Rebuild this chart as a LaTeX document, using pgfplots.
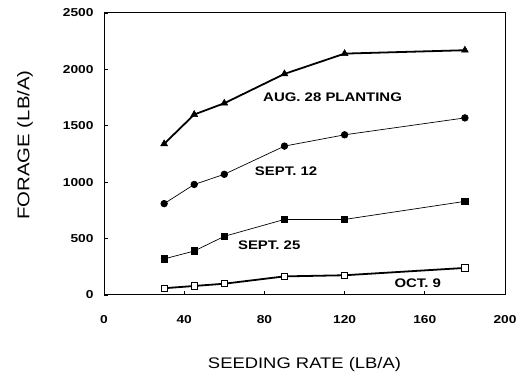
\documentclass[border=0pt]{standalone}
\usepackage{fontspec}
\setmainfont{Liberation Sans}
\newfontfamily\wide[FakeStretch=1.2]{Liberation Sans}
\usepackage{pgfplots}
\pgfplotsset{compat=1.18}
\begin{document}
\begin{tikzpicture}
\begin{axis}[
  at={(0,0)}, anchor=south west,
  scale only axis, width=401bp, height=282bp,
  xmin=0, xmax=200, ymin=0, ymax=2500,
  xtick={0,40,...,200}, ytick={0,500,...,2500},
  xtick pos=left, ytick pos=left,
  tick align=inside, major tick length=4bp,
  axis line style={line width=1pt},
  tick style={line width=0.8pt, black},
  /pgf/number format/assume math mode=true,
  /pgf/number format/1000 sep={},
  ticklabel style={font=\wide\bfseries\fontsize{11.5}{13}\selectfont},
  xticklabel style={yshift=-17bp},
  yticklabel style={xshift=-7bp},
  xlabel={SEEDING RATE (LB/A)},
  ylabel={FORAGE (LB/A)},
  xlabel style={font=\wide\fontsize{15.4}{18}\selectfont, at={(rel axis cs:0.5,-0.248)}, anchor=center},
  ylabel style={font=\wide\fontsize{17}{19}\selectfont, at={(rel axis cs:-0.197,0.532)}, anchor=center, rotate=0},
  clip=false,
]
\addplot[black, line width=1.8pt, mark=triangle*, mark size=4bp, mark options={line width=0.5pt}]
  coordinates {(30,1340) (45,1600) (60,1700) (90,1960) (120,2140) (180,2170)};
\addplot[black, line width=0.7pt, mark=*, mark size=3.3bp]
  coordinates {(30,810) (45,980) (60,1070) (90,1320) (120,1420) (180,1570)};
\addplot[black, line width=0.7pt, mark=square*, mark size=3.2bp]
  coordinates {(30,320) (45,390) (60,520) (90,670) (120,670) (180,830)};
\addplot[black, line width=1.8pt, mark=square*, mark size=3.2bp, mark options={fill=white, line width=0.9pt}]
  coordinates {(30,60) (45,80) (60,100) (90,165) (120,175) (180,240)};
\node[font=\wide\bfseries\fontsize{12.5}{14}\selectfont] at (axis cs:114,1757) {AUG. 28 PLANTING};
\node[font=\wide\bfseries\fontsize{12.5}{14}\selectfont] at (axis cs:90.8,1100) {SEPT. 12};
\node[font=\wide\bfseries\fontsize{12.5}{14}\selectfont] at (axis cs:82.4,440) {SEPT. 25};
\node[font=\wide\bfseries\fontsize{12.5}{14}\selectfont] at (axis cs:156.5,102) {OCT. 9};
\end{axis}
\path[use as bounding box] (-104bp,-80bp) rectangle (425bp,295bp);
\end{tikzpicture}
\end{document}
